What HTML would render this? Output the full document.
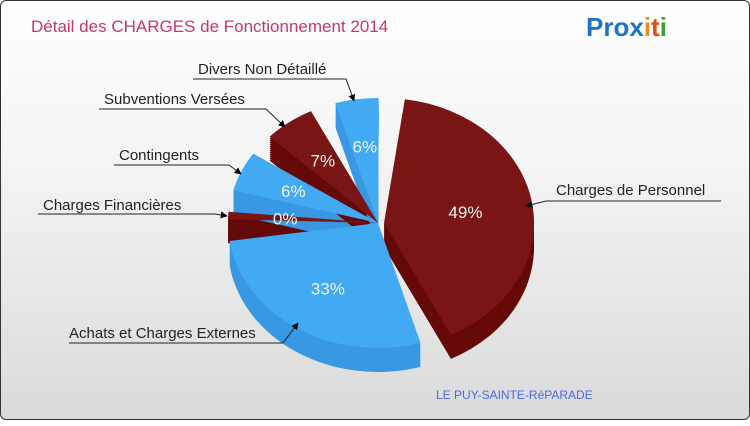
<!DOCTYPE html>
<html><head><meta charset="utf-8"><style>
body{margin:0;width:750px;height:420px;overflow:hidden;font-family:"Liberation Sans",sans-serif}
#frame{position:absolute;left:0;top:0;width:748px;height:418px;border:1px solid #333;border-radius:6px;background:linear-gradient(#ffffff,#f4f4f4 40%,#dadada)}
</style></head><body>
<div id="frame">
<svg width="750" height="420">
<defs><marker id="ar" viewBox="0 0 10 10" refX="9" refY="5" markerWidth="7" markerHeight="7" orient="auto"><path d="M0,0L10,5L0,10z" fill="#000"/></marker></defs>
<text x="30" y="31" font-size="17" fill="#c8356e">Détail des CHARGES de Fonctionnement 2014</text>
<g font-size="26" font-weight="bold" font-family="Liberation Sans,sans-serif">
<text x="585" y="35"><tspan fill="#1d73c8">Pro</tspan><tspan fill="#1d73c8">x</tspan><tspan fill="#f08a10">i</tspan><tspan fill="#e05010">t</tspan><tspan fill="#3aa030">i</tspan></text></g>
<g id="slices"></g>
<g id="labels" font-size="15" fill="#222"></g>
<text x="435" y="398" font-size="12" fill="#4a6ae0">LE PUY-SAINTE-RéPARADE</text>
</svg></div>
<script>
const categories=["Charges de Personnel","Achats et Charges Externes","Charges Financières","Contingents","Subventions Versées","Divers Non Détaillé"];
const values=[48.6,32.8,0.4,6.2,6.6,5.6];
const pctLabels=["49%","33%","0%","6%","7%","6%"];
const topColors=["#7a1515","#42aaf2","#7a1515","#42aaf2","#7a1515","#42aaf2"];
const sideColors=["#650808","#3898e2","#650808","#3898e2","#650808","#3898e2"];
const NS="http://www.w3.org/2000/svg";
const cx=377,cy=222,rx=150,ry=125,depth=24;
const gap=10*Math.PI/180,start=8*Math.PI/180;
const total=values.reduce((a,b)=>a+b,0);
const k=(2*Math.PI-values.length*gap)/total;
const g=document.getElementById('slices');
function pt(a,r1,r2,ox,oy){return [ox+r1*Math.sin(a),oy-r2*Math.cos(a)];}
function arcPath(a0,a1,ox,oy){
 const p0=pt(a0,rx,ry,ox,oy),p1=pt(a1,rx,ry,ox,oy);const large=(a1-a0)>Math.PI?1:0;
 return `M${ox},${oy}L${p0[0]},${p0[1]}A${rx},${ry} 0 ${large} 1 ${p1[0]},${p1[1]}Z`;}
let acc=start;const geo=[];
values.forEach((v,i)=>{const a0=acc;const a1=acc+Math.max(v*k,0.06);acc=a1+gap;const m=(a0+a1)/2;
 geo.push({a0,a1,m,ox:cx+(i===0?6:0),oy:cy});});
geo.forEach((s,i)=>{for(let d=depth;d>0;d-=2){const p=document.createElementNS(NS,'path');
 p.setAttribute('d',arcPath(s.a0,s.a1,s.ox,s.oy+d));p.setAttribute('fill',sideColors[i]);
 
 
 g.appendChild(p);}});
geo.forEach((s,i)=>{const p=document.createElementNS(NS,'path');
 p.setAttribute('d',arcPath(s.a0,s.a1,s.ox,s.oy));p.setAttribute('fill',topColors[i]);
 
 
 g.appendChild(p);
 const lr=i===0?0.55:0.62;const lp=pt(s.m,rx*lr,ry*lr,s.ox,s.oy);
 const t=document.createElementNS(NS,'text');t.setAttribute('x',lp[0]);t.setAttribute('y',lp[1]+6);
 t.setAttribute('text-anchor','middle');t.setAttribute('font-size','17');t.setAttribute('fill','#f4f4f4');
 t.textContent=pctLabels[i];
 
 
 g.appendChild(t);});
const L=document.getElementById('labels');
const lab=[
 [0,555,194,"M720,200L545,200L525,205"],
 [1,68,337,"M68,342L282,342L297,322"],
 [2,42,209,"M37,213L214,213L226,215"],
 [3,118,159,"M113,164L228,164L240,173"],
 [4,103,103,"M98,108L265,108L284,126"],
 [5,197,73,"M192,78L345,78L353,100"]];
lab.forEach(l=>{const t=document.createElementNS(NS,'text');t.setAttribute('x',l[1]);t.setAttribute('y',l[2]);
 t.textContent=categories[l[0]];
 
 
 L.appendChild(t);
 const p=document.createElementNS(NS,'path');p.setAttribute('d',l[3]);p.setAttribute('stroke','#222');p.setAttribute('fill','none');
 p.setAttribute('marker-end','url(#ar)');
 
 
 L.appendChild(p);});
</script>
</body></html>
